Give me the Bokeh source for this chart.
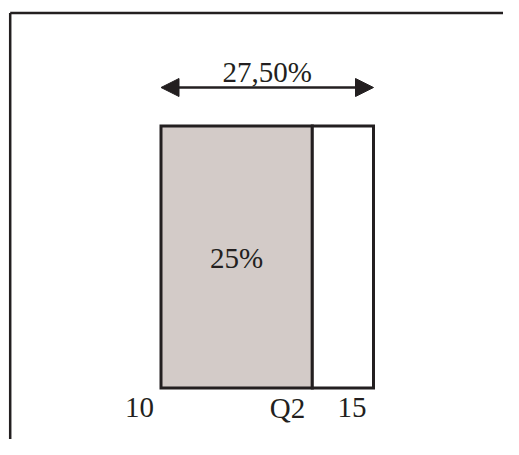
from bokeh.plotting import figure
from bokeh.models import Range1d, Arrow, NormalHead
from bokeh.embed import file_html
from bokeh.resources import INLINE
from bokeh.core.properties import value

# ---- data ----
edges = [10, 13.56, 15]          # class bounds: 10, Q2, 15
tick_labels = ["10", "Q2", "15"]
bar_height = [1.0, 1.0]
fills = ["#d3cbc8", "#ffffff"]
inner_label = "25%"
span_label = "27,50%"

INK = "#231f20"
FONT = value("Liberation Serif")
W, H = 503, 439
OFF = 0

# layout anchors (page pixels) used to size the ranges
sx_lo, sx_hi = 160.5, 373.0
sy_bottom, sy_top = 387.5, 125.5
kx = (sx_hi - sx_lo) / (edges[2] - edges[0])
ky = (sy_bottom - sy_top) / max(bar_height)
x0 = edges[0] - (sx_lo - OFF) / kx
x1 = x0 + W / kx
y0 = 0 - (OFF + H - sy_bottom) / ky
y1 = y0 + H / ky


def X(sx):
    return x0 + (sx - OFF) / kx


def Y(sy):
    return y0 + (OFF + H - sy) / ky


p = figure(width=W, height=H, x_range=Range1d(x0, x1), y_range=Range1d(y0, y1),
           output_backend="svg", toolbar_location=None, min_border=0,
           x_axis_location=None, y_axis_location=None)
p.grid.visible = False
p.outline_line_color = None
p.background_fill_color = "white"
p.border_fill_color = "white"

# frame (top and left lines)
fx, fy = X(9.7), Y(12.5)
p.segment(x0=[fx, fx], y0=[fy, fy], x1=[fx, x1], y1=[y0, fy],
          line_width=2.5, line_color=INK)

# bars
p.quad(left=edges[:-1], right=edges[1:], bottom=[0, 0], top=bar_height,
       fill_color=fills, line_color=INK, line_width=3, line_join="miter")

# double arrow
ay = Y(87)
p.add_layout(Arrow(start=NormalHead(size=18, fill_color=INK, line_color=INK, line_width=1),
                   end=NormalHead(size=18, fill_color=INK, line_color=INK, line_width=1),
                   x_start=edges[0], x_end=edges[2], y_start=ay, y_end=ay,
                   line_width=2.5, line_color=INK))

p.text(x=[(edges[0] + edges[2]) / 2], y=[Y(71.5)], text=[span_label],
       text_align="center", text_baseline="middle", text_font=FONT,
       text_font_size="29px", text_color=INK)

p.text(x=[(edges[0] + edges[1]) / 2], y=[Y(257)], text=[inner_label],
       text_align="center", text_baseline="middle", text_font=FONT,
       text_font_size="29px", text_color=INK)

p.text(x=edges, y=[Y(407)] * len(edges), text=tick_labels,
       text_align="right", text_baseline="middle", x_offset=-7,
       text_font=FONT, text_font_size="29px", text_color=INK)

open("out.html", "w").write(file_html(p, INLINE))
